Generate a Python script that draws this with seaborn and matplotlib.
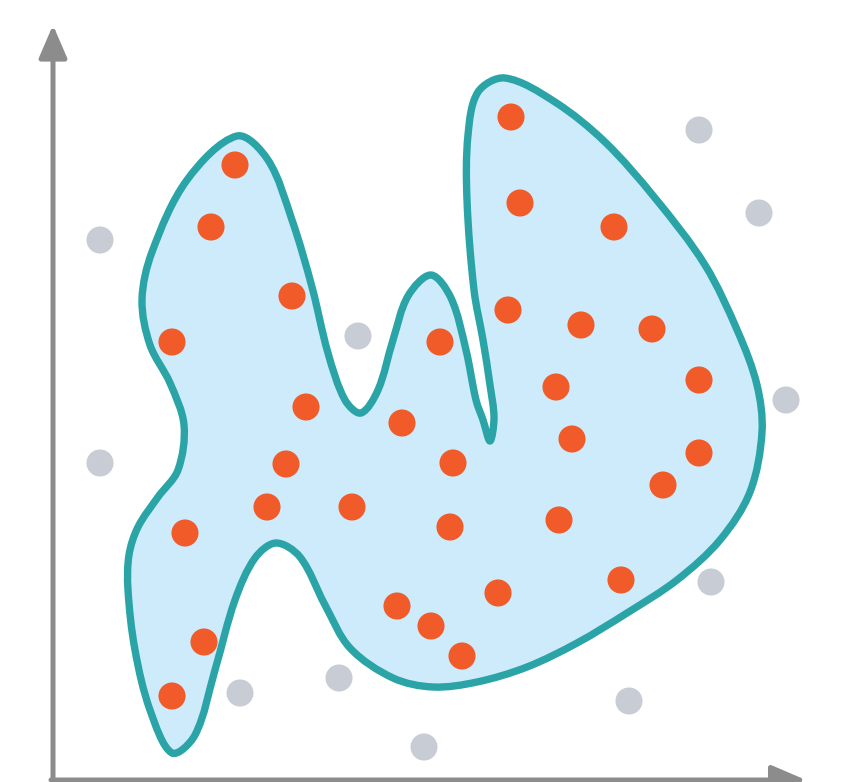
import numpy as np
import pandas as pd
import matplotlib
matplotlib.use("Agg")
import matplotlib.pyplot as plt
from matplotlib.path import Path
from matplotlib.patches import PathPatch
import seaborn as sns

# Point positions (picture pixels, y grows downward)
inside_x = [235, 211, 292, 172, 306, 286, 267, 185, 352, 204, 172, 402, 440, 453, 450, 397,
            431, 462, 498, 511, 520, 614, 508, 581, 652, 556, 699, 572, 699, 663, 559, 621]
inside_y = [165, 227, 296, 342, 407, 464, 507, 533, 507, 642, 696, 423, 342, 463, 527, 606,
            626, 656, 593, 117, 203, 227, 310, 325, 329, 387, 380, 439, 453, 485, 520, 580]
outside_x = [100, 100, 358, 699, 759, 786, 711, 629, 424, 339, 240]
outside_y = [240, 463, 336, 130, 213, 400, 582, 701, 747, 678, 693]

# Traced outline of the over-fitted boundary (clockwise)
outline_x = [237, 268, 292, 312, 328, 345, 361, 378, 393, 408, 431, 451, 466, 476, 483, 490,
             494, 490, 483, 474, 467, 468, 478, 505, 555, 605, 655, 705, 738, 757, 762, 750,
             720, 677, 627, 577, 527, 477, 433, 393, 350, 325, 300, 276, 255, 235, 215, 195,
             172, 150, 135, 128, 129, 138, 158, 178, 184, 170, 150, 142, 152, 187]
outline_y = [136, 160, 220, 287, 353, 400, 413, 390, 340, 296, 275, 298, 350, 400, 420, 441,
             418, 385, 340, 290, 200, 135, 92, 78, 102, 142, 198, 265, 332, 385, 432, 492,
             540, 580, 613, 643, 667, 682, 687, 678, 648, 605, 557, 543, 558, 600, 670, 735,
             753, 710, 650, 590, 555, 527, 497, 470, 425, 383, 345, 300, 252, 180]

ORANGE = "#f15a29"
GRAY = "#c7ccd5"
TEAL = "#2aa4a6"
FILL = "#cdebfa"
AXIS = "#8c8c8c"

points = pd.DataFrame({
    "x": inside_x + outside_x,
    "y": inside_y + outside_y,
    "cls": ["in"] * len(inside_x) + ["out"] * len(outside_x),
})

sns.set_style("white")
fig = plt.figure(figsize=(8.51, 7.82), dpi=100)
ax = fig.add_axes([0, 0, 1, 1])

# smooth closed curve through the traced points (chord-length Catmull-Rom -> Bezier)
pts = np.column_stack([outline_x, outline_y]).astype(float)
n = len(pts)
seg = np.linalg.norm(np.roll(pts, -1, axis=0) - pts, axis=1)  # seg[i]: i -> i+1
tang = np.empty_like(pts)
for i in range(n):
    tang[i] = (pts[(i + 1) % n] - pts[i - 1]) / (seg[i - 1] + seg[i])
verts = [pts[0]]
codes = [Path.MOVETO]
for i in range(n):
    j = (i + 1) % n
    verts += [pts[i] + tang[i] * seg[i] / 3, pts[j] - tang[j] * seg[i] / 3, pts[j]]
    codes += [Path.CURVE4] * 3
verts.append(pts[0])
codes.append(Path.CLOSEPOLY)
blob = PathPatch(Path(verts, codes), facecolor=FILL, edgecolor=TEAL, lw=5.3, zorder=1,
                 joinstyle="round")
ax.add_patch(blob)

sns.scatterplot(data=points, x="x", y="y", hue="cls", palette={"in": ORANGE, "out": GRAY},
                s=380, linewidth=0, legend=False, zorder=3, ax=ax)

# axis arrows
ax.annotate("", xy=(53, 25), xytext=(53, 790),
            arrowprops=dict(arrowstyle="-|>,head_length=1.0,head_width=0.43",
                            color=AXIS, lw=3.6, mutation_scale=20, shrinkA=0, shrinkB=0))
ax.annotate("", xy=(806, 780), xytext=(51, 780),
            arrowprops=dict(arrowstyle="-|>,head_length=1.05,head_width=0.45",
                            color=AXIS, lw=3.6, mutation_scale=20, shrinkA=0, shrinkB=0))

ax.set_xlim(0, 851)
ax.set_ylim(782, 0)
ax.axis("off")

fig.savefig("out.png", dpi=100)
